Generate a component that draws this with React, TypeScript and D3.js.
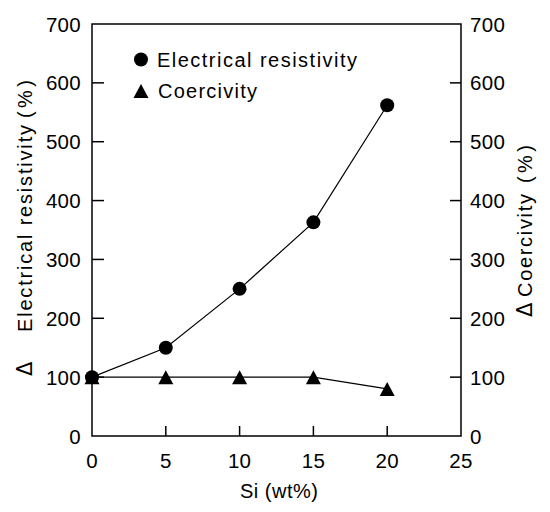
import React from "react";
import * as d3 from "d3";

const siContent = [0, 5, 10, 15, 20];
const resistivity = [100, 150, 250, 363, 562];
const coercivity = [100, 100, 100, 100, 80];
const xTicks = [0, 5, 10, 15, 20, 25];
const yTicks = [0, 100, 200, 300, 400, 500, 600, 700];

const W = 550;
const H = 512;
const M = { left: 92, right: 461, top: 24, bottom: 436 };
const FONT = "'Liberation Sans', Arial, Helvetica, sans-serif";
const DFONT = "'DejaVu Sans', sans-serif";

export default function App() {
  const x = d3.scaleLinear().domain([0, 25]).range([M.left, M.right]);
  const yL = d3.scaleLinear().domain([0, 700]).range([M.bottom, M.top]);
  const yR = d3.scaleLinear().domain([0, 700]).range([M.bottom, M.top]);

  const lineGen = (vals: number[], ys: d3.ScaleLinear<number, number>) =>
    d3
      .line<number>()
      .x((_, i) => x(siContent[i]))
      .y((v) => ys(v))(vals) as string;

  const tri = (cx: number, cy: number) =>
    `M${cx},${cy - 7}L${cx + 7.5},${cy + 7}L${cx - 7.5},${cy + 7}Z`;

  return (
    <svg
      width={W}
      height={H}
      style={{ position: "absolute", left: 0, top: 0, background: "#fff" }}
      fontFamily={FONT}
    >
      <rect x={0} y={0} width={W} height={H} fill="#fff" />
      {/* frame */}
      <rect
        x={M.left}
        y={M.top}
        width={M.right - M.left}
        height={M.bottom - M.top}
        fill="none"
        stroke="#000"
        strokeWidth={1.5}
      />
      {/* left ticks */}
      {yTicks.map((t) => (
        <g key={"l" + t}>
          {t > 0 && t < 700 && (
            <line x1={M.left} x2={M.left + 12} y1={yL(t)} y2={yL(t)} stroke="#000" strokeWidth={1.5} />
          )}
          <text x={81} y={yL(t) + 7.5} fontSize={20.5} textAnchor="end" letterSpacing={0.3}>
            {t}
          </text>
        </g>
      ))}
      {/* right ticks */}
      {yTicks.map((t) => (
        <g key={"r" + t}>
          {t > 0 && t < 700 && (
            <line x1={M.right - 11} x2={M.right} y1={yR(t)} y2={yR(t)} stroke="#000" strokeWidth={1.5} />
          )}
          <text x={470} y={yR(t) + 7.5} fontSize={20.5} textAnchor="start" letterSpacing={0.3}>
            {t}
          </text>
        </g>
      ))}
      {/* bottom ticks */}
      {xTicks.map((t) => (
        <g key={"b" + t}>
          {t > 0 && t < 25 && (
            <line x1={x(t)} x2={x(t)} y1={M.bottom - 10} y2={M.bottom} stroke="#000" strokeWidth={1.5} />
          )}
          <text x={x(t)} y={468} fontSize={20.5} textAnchor="middle" letterSpacing={0.3}>
            {t}
          </text>
        </g>
      ))}
      {/* x title */}
      <text x={240} y={498} fontSize={20} textLength={78} lengthAdjust="spacing">
        Si (wt%)
      </text>
      {/* left title */}
      <g transform="translate(32,0) rotate(-90)">
        <text x={-376} y={0} fontSize={21} fontFamily={DFONT} textAnchor="start">
          Δ
        </text>
        <text x={-332} y={0} fontSize={20} textLength={207} lengthAdjust="spacing">
          Electrical resistivity
        </text>
        <text x={-118} y={0} fontSize={20} textLength={38} lengthAdjust="spacing">
          (%)
        </text>
      </g>
      {/* right title */}
      <g transform="translate(532,0) rotate(-90)">
        <text x={-317} y={0} fontSize={21} fontFamily={DFONT} textAnchor="start">
          Δ
        </text>
        <text x={-297} y={0} fontSize={20} textLength={103} lengthAdjust="spacing">
          Coercivity
        </text>
        <text x={-183} y={0} fontSize={20} textLength={38} lengthAdjust="spacing">
          (%)
        </text>
      </g>
      {/* lines */}
      <path d={lineGen(coercivity, yR)} fill="none" stroke="#000" strokeWidth={1.2} />
      <path d={lineGen(resistivity, yL)} fill="none" stroke="#000" strokeWidth={1.2} />
      {coercivity.map((v, i) => (
        <path key={"t" + i} d={tri(x(siContent[i]), yR(v))} fill="#000" />
      ))}
      {resistivity.map((v, i) => (
        <circle key={"c" + i} cx={x(siContent[i])} cy={yL(v)} r={7} fill="#000" />
      ))}
      {/* legend */}
      <circle cx={141} cy={59.5} r={7} fill="#000" />
      <text x={157} y={67} fontSize={20} textLength={200} lengthAdjust="spacing">
        Electrical resistivity
      </text>
      <path d={tri(141, 91)} fill="#000" />
      <text x={158} y={98} fontSize={20} textLength={99} lengthAdjust="spacing">
        Coercivity
      </text>
    </svg>
  );
}
